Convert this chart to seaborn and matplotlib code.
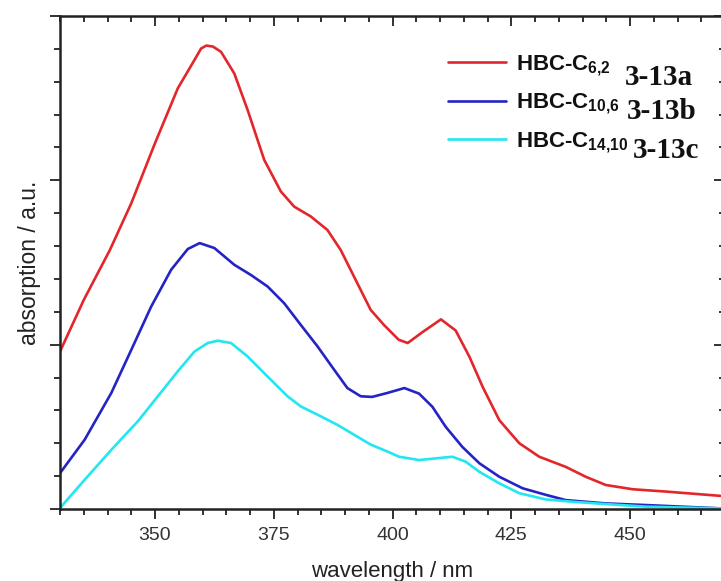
import pandas as pd
import matplotlib.pyplot as plt
import seaborn as sns
from matplotlib.ticker import MultipleLocator, NullFormatter

# spectra (absorption in a.u.)
wl_a = [330, 335, 340.5, 345, 350, 354.8, 358.3, 359.7, 360.8, 362.2, 363.9, 366.7, 369.5, 373,
        376.5, 379.3, 382.8, 386.3, 389.1, 391.9, 395.4, 398.2, 401.3, 403.2, 406.3, 410.2,
        413.3, 416.2, 419, 422.5, 426.7, 430.9, 436.5, 440.7, 444.9, 450.6, 457.6, 469]
abs_a = [0.479, 0.636, 0.788, 0.930, 1.113, 1.280, 1.366, 1.401, 1.410, 1.407, 1.391, 1.325,
         1.214, 1.062, 0.966, 0.920, 0.890, 0.849, 0.788, 0.707, 0.606, 0.560, 0.515, 0.505,
         0.538, 0.577, 0.543, 0.463, 0.371, 0.270, 0.200, 0.159, 0.128, 0.098, 0.073, 0.060,
         0.053, 0.040]

wl_b = [330, 335.2, 340.8, 345, 349.2, 353.4, 356.9, 359.4, 362.5, 366.7, 370.2, 373.7, 377.2,
        380.7, 384.2, 387.7, 390.5, 393.3, 395.7, 398.9, 402.5, 405.6, 408.4, 411.2, 414.7,
        418.3, 422.5, 427.4, 432.3, 436.5, 444.9, 453.4, 469]
abs_b = [0.109, 0.211, 0.353, 0.484, 0.616, 0.728, 0.791, 0.809, 0.794, 0.743, 0.712, 0.677,
         0.626, 0.560, 0.495, 0.424, 0.368, 0.343, 0.341, 0.353, 0.368, 0.351, 0.311, 0.250,
         0.189, 0.139, 0.098, 0.063, 0.043, 0.027, 0.017, 0.012, 0.002]

wl_c = [330, 335.2, 340.8, 346.4, 350.6, 354.8, 358.3, 361.1, 363.2, 366, 369.5, 373.7, 377.9,
        380.7, 384.9, 388.4, 391.9, 395.4, 398.9, 401.4, 405.6, 409.1, 412.6, 415.4, 418.3,
        422.5, 426.7, 432.3, 437.9, 444.9, 453.4, 469]
abs_c = [0.003, 0.089, 0.180, 0.267, 0.343, 0.419, 0.479, 0.505, 0.512, 0.505, 0.464, 0.403,
         0.343, 0.312, 0.282, 0.256, 0.226, 0.196, 0.175, 0.159, 0.149, 0.154, 0.159, 0.144,
         0.113, 0.078, 0.048, 0.029, 0.022, 0.015, 0.007, 0.002]

samples = ["a", "b", "c"]
legend_labels = ["HBC-C$_{6{,}2}$", "HBC-C$_{10{,}6}$", "HBC-C$_{14{,}10}$"]
compound_ids = ["3-13a", "3-13b", "3-13c"]
colors = ["#e3262b", "#2424c4", "#22e6f0"]

df = pd.concat([
    pd.DataFrame({"wavelength": wl_a, "absorption": abs_a, "sample": "a"}),
    pd.DataFrame({"wavelength": wl_b, "absorption": abs_b, "sample": "b"}),
    pd.DataFrame({"wavelength": wl_c, "absorption": abs_c, "sample": "c"}),
])

sns.set_style("ticks")
plt.rcParams["font.family"] = ["Liberation Sans", "DejaVu Sans"]
plt.rcParams["mathtext.fontset"] = "custom"
plt.rcParams["mathtext.rm"] = "Liberation Sans:bold"
plt.rcParams["mathtext.it"] = "Liberation Sans:bold"
plt.rcParams["mathtext.bf"] = "Liberation Sans:bold"

W, H = 721, 581
fig = plt.figure(figsize=(W / 100, H / 100), dpi=100)
ax = fig.add_axes([60 / W, 72 / H, 665 / W, 493 / H])

sns.lineplot(data=df, x="wavelength", y="absorption", hue="sample", hue_order=samples,
             palette=colors, estimator=None, sort=False, linewidth=1.9, ax=ax, legend=False)

ax.set_xlim(330, 470)
ax.set_ylim(0, 1.5)
ax.set_xticks([350, 375, 400, 425, 450])
ax.xaxis.set_minor_locator(MultipleLocator(5))
ax.set_yticks([0, 0.5, 1.0, 1.5])
ax.yaxis.set_minor_locator(MultipleLocator(0.1))
ax.yaxis.set_major_formatter(NullFormatter())

dark = "#222222"
for s in ax.spines.values():
    s.set_color(dark)
    s.set_linewidth(1.8)
ax.tick_params(which="both", direction="out", color=dark, width=1.3, labelcolor="#333333",
               labelsize=14, pad=6)
ax.tick_params(which="major", length=7)
ax.tick_params(which="minor", length=4)

# mirrored ticks pointing inwards on top and right
top = ax.secondary_xaxis("top")
top.set_xticks([350, 375, 400, 425, 450])
top.xaxis.set_minor_locator(MultipleLocator(5))
top.tick_params(which="both", direction="in", color=dark, width=1.3, labeltop=False)
top.tick_params(which="major", length=7)
top.tick_params(which="minor", length=4.5)
right = ax.secondary_yaxis("right")
right.set_yticks([0, 0.5, 1.0, 1.5])
right.yaxis.set_minor_locator(MultipleLocator(0.1))
right.tick_params(which="both", direction="in", color=dark, width=1.3, labelright=False)
right.tick_params(which="major", length=8)
right.tick_params(which="minor", length=4.5)
for sp in list(top.spines.values()) + list(right.spines.values()):
    sp.set_visible(False)

ax.set_xlabel("wavelength / nm", fontsize=16, color="#222222", labelpad=12)
ax.set_ylabel("absorption / a.u.", fontsize=16.5, color="#222222", labelpad=1)

leg = ax.legend(ax.lines, legend_labels, loc="upper left", frameon=False,
                bbox_to_anchor=(437 / W, 1 - 42 / H), bbox_transform=fig.transFigure,
                prop={"family": "Liberation Sans", "weight": "bold", "size": 16},
                handlelength=2.6, handletextpad=0.45, labelspacing=0.62, borderpad=0)
for t in leg.get_texts():
    t.set_color("#111111")

id_pos = [(625, 85), (627, 119), (633, 158)]
for cid, (px, py) in zip(compound_ids, id_pos):
    fig.text(px / W, 1 - py / H, cid, family="Liberation Serif", weight="bold", size=21,
             va="baseline", ha="left", color="#111111")

fig.savefig("out.png", dpi=100)
